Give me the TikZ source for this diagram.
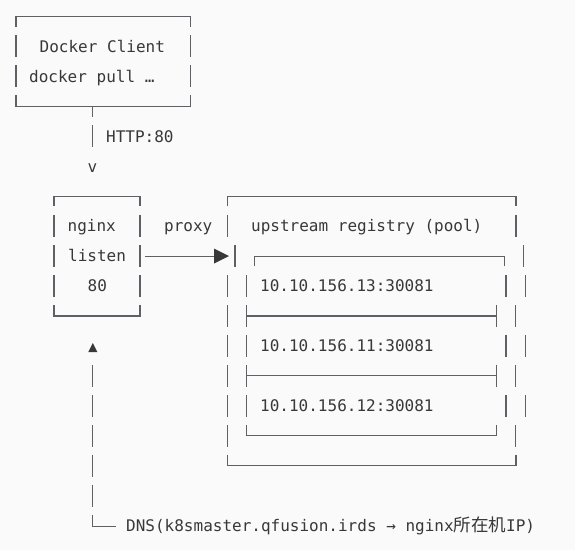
\documentclass[tikz,border=0pt]{standalone}
\usepackage{fontspec}
\setmonofont{DejaVu Sans Mono}
\newfontfamily\cjk{Noto Sans CJK SC}
\definecolor{txt}{HTML}{383838}
\definecolor{lnc}{HTML}{5E6066}
\definecolor{bgc}{HTML}{FAFAFA}
\newcommand\rowy[1]{(16.5+29.95*#1)}
\newcommand\vseg[2]{\draw[ln] (#1,{\rowy{#2}-11}) -- (#1,{\rowy{#2}+11});}
\newcommand\topbar[3]{\draw[ln] (#1,{\rowy{#3}+10}) -- (#1,{\rowy{#3}}) -- (#2,{\rowy{#3}}) -- (#2,{\rowy{#3}+10});}
\newcommand\botbar[3]{\draw[ln] (#1,{\rowy{#3}-11}) -- (#1,{\rowy{#3}}) -- (#2,{\rowy{#3}}) -- (#2,{\rowy{#3}-11});}
\newcommand\midbar[3]{\draw[ln] (#1,{\rowy{#3}-11}) -- (#1,{\rowy{#3}+11}) (#1,{\rowy{#3}}) -- (#2,{\rowy{#3}}) (#2,{\rowy{#3}-11}) -- (#2,{\rowy{#3}+11});}
\begin{document}
\begin{tikzpicture}[x=1pt,y=-1pt,
  ln/.style={draw=lnc, line width=1.1pt},
  tx/.style={anchor=base west, inner sep=0pt, text=txt, font=\ttfamily\fontsize{16}{16}\selectfont}]
\fill[bgc] (0,0) rectangle (575,550);
\useasboundingbox (0,0) rectangle (575,550);

% Docker client box
\topbar{16}{190.5}{0}
\vseg{16}{1}\vseg{16}{2}\vseg{190.5}{1}\vseg{190.5}{2}
\botbar{16}{190.5}{3}
\draw[ln] (92.3,{\rowy{3}}) -- (92.3,{\rowy{3}+11});
\node[tx] (dc) at (39.5,{\rowy{1}+5.8}) {Docker Client};
\node[tx] (dp) at (29,{\rowy{2}+5.8}) {docker pull …};

% HTTP link
\vseg{92.3}{4}
\node[tx] (http) at (106,{\rowy{4}+5.8}) {HTTP:80};
\node[tx, anchor=base] (vv) at (92.5,{\rowy{5}+5.8}) {v};

% nginx box
\topbar{54}{140}{6}
\vseg{54}{7}\vseg{54}{8}\vseg{54}{9}
\vseg{140}{7}\vseg{140}{8}\vseg{140}{9}
\botbar{54}{140}{10}
\node[tx] (ng) at (67.5,{\rowy{7}+5.8}) {nginx};
\node[tx] (ls) at (68,{\rowy{8}+5.8}) {listen};
\node[tx] (p80) at (87.5,{\rowy{9}+5.8}) {80};

% proxy arrow
\node[tx] (px) at (164,{\rowy{7}+5.8}) {proxy};
\coordinate (arrS) at (145,{\rowy{8}});
\coordinate (arrE) at (214,{\rowy{8}});
\draw[ln] (arrS) -- (arrE);
\fill[txt] (arrE) ++(0,-7.5) -- ++(15,7.5) -- ++(-15,7.5) -- cycle;

% upstream outer box
\topbar{227.3}{516}{6}
\vseg{227.3}{7}\vseg{235}{8}
\vseg{227.3}{9}\vseg{227.3}{10}\vseg{227.3}{11}\vseg{227.3}{12}\vseg{227.3}{13}\vseg{227.3}{14}
\vseg{516}{7}\vseg{523.3}{8}\vseg{525.5}{9}\vseg{515.8}{10}\vseg{525.3}{11}\vseg{515.8}{12}\vseg{525.3}{13}\vseg{515.8}{14}
\botbar{227.3}{516}{15}
\node[tx] (up) at (251,{\rowy{7}+5.8}) {upstream registry (pool)};

% inner pool box
\topbar{254.3}{504.8}{8}
\vseg{246.7}{9}\vseg{246.7}{11}\vseg{246.7}{13}
\vseg{506}{9}\vseg{506}{11}\vseg{506}{13}
\midbar{246.7}{496.7}{10}
\midbar{246.7}{496.7}{12}
\botbar{246.7}{496.7}{14}
\node[tx] (ipa) at (260,{\rowy{9}+5.8}) {10.10.156.13:30081};
\node[tx] (ipb) at (260,{\rowy{11}+5.8}) {10.10.156.11:30081};
\node[tx] (ipc) at (260,{\rowy{13}+5.8}) {10.10.156.12:30081};

% DNS line
\fill[txt] (88.3,352) -- (92.8,343) -- (97.3,352) -- cycle;
\vseg{92.3}{12}\vseg{92.3}{13}\vseg{92.3}{14}\vseg{92.3}{15}\vseg{92.3}{16}
\draw[ln] (92.3,{\rowy{17}-11}) -- (92.3,{\rowy{17}+1}) -- (115.7,{\rowy{17}+1});
\node[tx] (dns) at (126,{\rowy{17}+5.8}) {DNS(k8smaster.qfusion.irds → nginx{\cjk\fontsize{17.5}{16}\selectfont 所在机}IP)};
\end{tikzpicture}
\end{document}
